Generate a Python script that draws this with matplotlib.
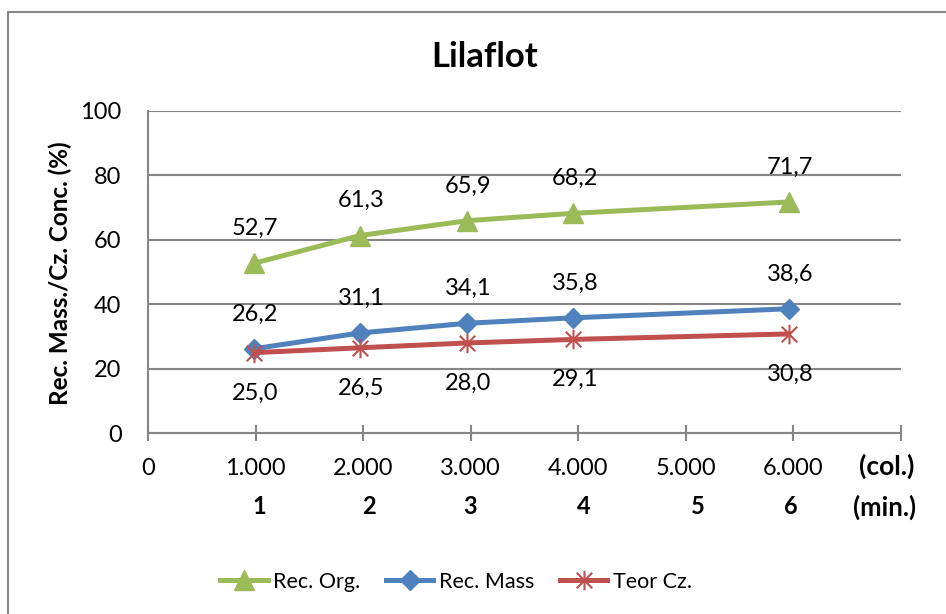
import matplotlib
matplotlib.use("Agg")
import matplotlib.pyplot as plt
from matplotlib.path import Path
from matplotlib.patches import Rectangle

plt.rcParams['font.family'] = ['Lato', 'DejaVu Sans']

# Series data
col_volume = [985, 1970, 2965, 3955, 5955]
rec_org = [52.7, 61.3, 65.9, 68.2, 71.7]
rec_mass = [26.2, 31.1, 34.1, 35.8, 38.6]
teor_cz = [25.0, 26.5, 28.0, 29.1, 30.8]

x_ticks = [0, 1000, 2000, 3000, 4000, 5000, 6000, 7000]
x_tick_labels = ["0", "1.000", "2.000", "3.000", "4.000", "5.000", "6.000", ""]
y_ticks = [0, 20, 40, 60, 80, 100]
minute_labels = ["1", "2", "3", "4", "5", "6"]
minute_label_x = [1033, 2056, 2995, 4047, 5116, 5972]

GREEN = "#9BBB59"
BLUE = "#4F81BD"
RED = "#C0504D"
GRID = "#868686"

W, H = 946, 614
fig = plt.figure(figsize=(W / 100, H / 100), dpi=100)

# outer chart frame (runs past right and bottom edges)
fig.add_artist(Rectangle((8 / W, -0.1), 1.2, (H - 12) / H + 0.1,
                         transform=fig.transFigure, fill=False,
                         edgecolor=GRID, linewidth=1.5, clip_on=False))

left, right, top, bottom = 148, 901, 110.7, 433.3
ax = fig.add_axes([left / W, (H - bottom) / H, (right - left) / W, (bottom - top) / H])

# asterisk marker: vertical bar plus an X
ast = Path([(0, -1), (0, 1), (-0.8, -0.8), (0.8, 0.8), (-0.8, 0.8), (0.8, -0.8)],
           [Path.MOVETO, Path.LINETO, Path.MOVETO, Path.LINETO, Path.MOVETO, Path.LINETO])

lw = 3.6
l1, = ax.plot(col_volume, rec_org, color=GREEN, lw=lw, marker="^", ms=15,
              label="Rec. Org.", zorder=5)
l2, = ax.plot(col_volume, rec_mass, color=BLUE, lw=lw, marker="D", ms=10,
              label="Rec. Mass", zorder=5)
l3, = ax.plot(col_volume, teor_cz, color=RED, lw=lw, marker=ast, ms=14,
              markeredgewidth=1.5, markeredgecolor=RED, label="Teor Cz.", zorder=5)

fs = 17
for xs, ys, dy in [(col_volume, rec_org, 25), (col_volume, rec_mass, 25), (col_volume, teor_cz, -29)]:
    for x, y in zip(xs, ys):
        ax.annotate(f"{y:.1f}".replace(".", ","), (x, y), xytext=(1, dy),
                    textcoords="offset points", ha="center", va="center",
                    fontsize=fs, color="black")

ax.set_xlim(0, 7000)
ax.set_ylim(0, 100)
ax.set_xticks(x_ticks)
ax.set_xticklabels(x_tick_labels)
ax.set_yticks(y_ticks)
ax.tick_params(axis="x", direction="inout", length=11, width=1.5, color=GRID,
               labelsize=fs, pad=12)
ax.tick_params(axis="y", length=0, labelsize=fs, pad=19)
ax.grid(axis="y", color=GRID, linewidth=1.5)
ax.set_axisbelow(True)
for s in ["top", "right"]:
    ax.spines[s].set_visible(False)
for s in ["left", "bottom"]:
    ax.spines[s].set_color(GRID)
    ax.spines[s].set_linewidth(1.5)

# minute row below the column-volume ticks
for lab, x in zip(minute_labels, minute_label_x):
    fig.text(ax.transData.transform((x, 0))[0] / W, (H - 507) / H, lab,
             fontsize=fs, fontweight="bold", ha="center", va="center")

fig.text(887 / W, (H - 466) / H, "(col.)", fontsize=19, fontweight="bold",
         ha="center", va="center")
fig.text(885 / W, (H - 507) / H, "(min.)", fontsize=18.5, fontweight="bold",
         ha="center", va="center")

fig.text(485 / W, (H - 57) / H, "Lilaflot", fontsize=25, fontweight="bold",
         ha="center", va="center")
fig.text(60 / W, (H - 273) / H, "Rec. Mass./Cz. Conc. (%)", fontsize=17.5,
         fontweight="bold", ha="center", va="center", rotation=90)

fig.legend(handles=[l1, l2, l3], loc="center", bbox_to_anchor=(456 / W, (H - 582) / H),
           ncol=3, frameon=False, fontsize=15.5, handlelength=2.2,
           columnspacing=1.2, handletextpad=0.25)

fig.savefig("out.png", dpi=100)
